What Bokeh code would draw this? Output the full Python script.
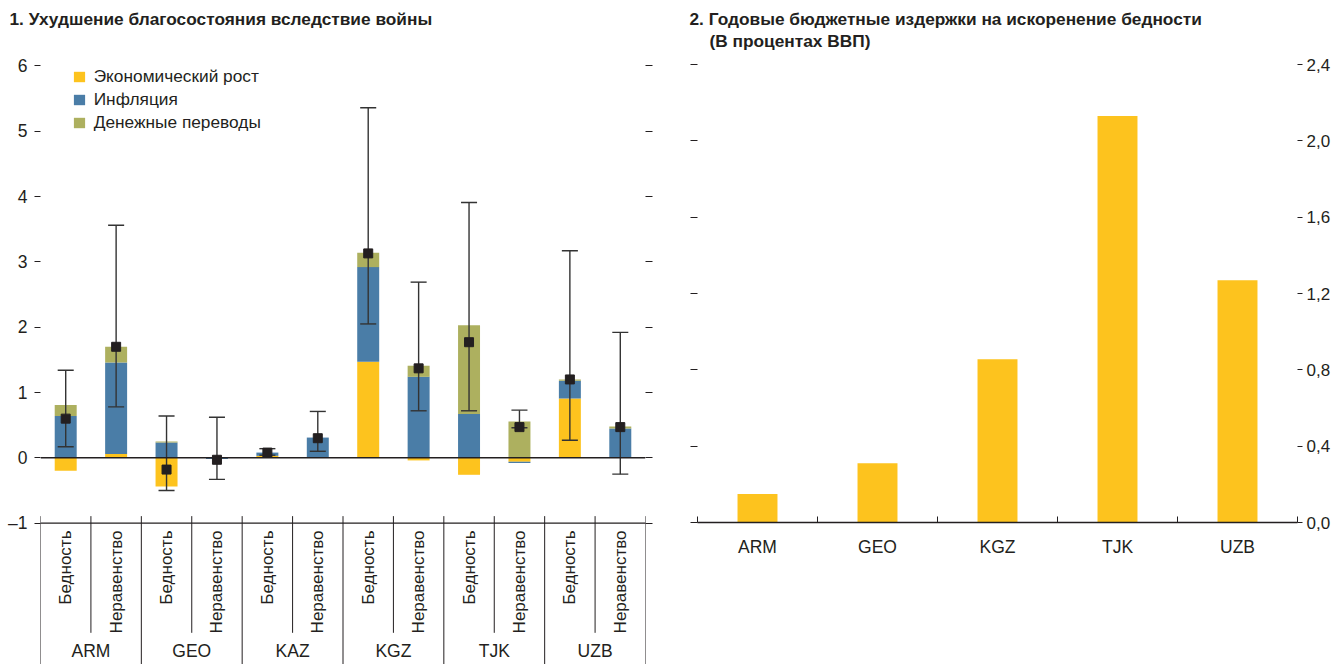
import math
from bokeh.plotting import figure
from bokeh.models import (Range1d, LinearAxis, FixedTicker,
                          CustomJSTickFormatter, Span, Legend, LegendItem, Title)
from bokeh.layouts import row
from bokeh.embed import file_html
from bokeh.resources import INLINE
from bokeh.core.properties import value

FONT = "Liberation Sans"
INK = "#231F20"
YELLOW = "#FDC31E"
BLUE = "#4A7DA7"
OLIVE = "#ADB05F"

# ---------------- data: panel 1 ----------------
countries = ["ARM", "GEO", "KAZ", "KGZ", "TJK", "UZB"]
measures = ["Бедность", "Неравенство"]
series_names = ["Экономический рост", "Инфляция", "Денежные переводы"]

# order: ARM-Бедность, ARM-Неравенство, GEO-Бедность, ...
growth      = [-0.20, 0.06, -0.44, 0.00, 0.03, 0.00, 1.47, -0.04, -0.26, -0.06, 0.91, 0.00]
inflation   = [0.64, 1.40, 0.235, -0.02, 0.05, 0.31, 1.45, 1.24, 0.67, -0.02, 0.27, 0.45]
remittances = [0.17, 0.24, 0.015, 0.00, 0.00, 0.00, 0.22, 0.17, 1.36, 0.555, 0.02, 0.03]
total       = [0.60, 1.70, -0.18, -0.03, 0.08, 0.30, 3.13, 1.37, 1.77, 0.47, 1.20, 0.47]
lower       = [0.17, 0.78, -0.50, -0.33, 0.04, 0.10, 2.05, 0.72, 0.72, 0.46, 0.27, -0.25]
upper       = [1.34, 3.56, 0.64, 0.62, 0.14, 0.71, 5.36, 2.69, 3.91, 0.73, 3.17, 1.92]
y_ticks_1 = [-1, 0, 1, 2, 3, 4, 5, 6]

# ---------------- data: panel 2 ----------------
cost_countries = ["ARM", "GEO", "KGZ", "TJK", "UZB"]
cost = [0.15, 0.31, 0.855, 2.13, 1.27]
y_ticks_2 = [0.0, 0.4, 0.8, 1.2, 1.6, 2.0, 2.4]

# ---------------- panel 1 ----------------
n = len(countries) * len(measures)
xc = [i + 0.5 for i in range(n)]
sub_labels = [mm for c in countries for mm in measures]

# diverging stacking
pos_base = [0.0] * n
neg_base = [0.0] * n
stacks = []
for comp in (growth, inflation, remittances):
    b, t = [], []
    for i, v in enumerate(comp):
        if v >= 0:
            b.append(pos_base[i]); t.append(pos_base[i] + v); pos_base[i] += v
        else:
            b.append(neg_base[i]); t.append(neg_base[i] + v); neg_base[i] += v
    stacks.append((b, t))

Y_BOTTOM = -3.165
p1 = figure(width=672, height=664, x_range=Range1d(0, n), y_range=Range1d(Y_BOTTOM, 6.237),
            output_backend="svg", toolbar_location=None, x_axis_location=None,
            min_border_left=40, min_border_right=27, min_border_top=50, min_border_bottom=0,
            outline_line_color=None, background_fill_color="white", border_fill_color="white",
            frame_align=False)
p1.xgrid.visible = False
p1.ygrid.visible = False

yax = p1.left[0]
yax.ticker = FixedTicker(ticks=y_ticks_1)
yax.formatter = CustomJSTickFormatter(code="return tick < 0 ? '\u2013' + Math.abs(tick) : String(tick);")
yax.axis_line_color = None
yax.major_tick_out = 6
yax.major_tick_in = 0
yax.minor_tick_line_color = None
yax.major_tick_line_color = INK
yax.major_label_standoff = 7
yax.major_label_text_font = FONT
yax.major_label_text_font_size = "17.5px"
yax.major_label_text_color = INK

rax = LinearAxis(ticker=FixedTicker(ticks=y_ticks_1),
                 formatter=CustomJSTickFormatter(code="return '';"))
rax.axis_line_color = None
rax.major_tick_out = 7
rax.major_tick_in = 0
rax.minor_tick_line_color = None
rax.major_tick_line_color = INK
rax.major_label_standoff = 0
p1.add_layout(rax, "right")

p1.add_layout(Span(location=0, dimension="width", line_color=INK, line_width=1.5))
p1.add_layout(Span(location=-1, dimension="width", line_color=INK, line_width=1.2))

renderers = []
for (b, t), col in zip(stacks, (YELLOW, BLUE, OLIVE)):
    r = p1.vbar(x=xc, bottom=b, top=t, width=0.436, fill_color=col, line_color=None)
    renderers.append(r)

# separators
sep_x = list(range(n + 1))
sep_top = [-0.893] * (n + 1)
sep_bot = [Y_BOTTOM if k % len(measures) == 0 else -2.68 for k in sep_x]
p1.segment(x0=sep_x, y0=sep_top, x1=sep_x, y1=sep_bot, line_color=INK, line_width=1)

# error bars
cap = 0.159
p1.segment(x0=xc, y0=lower, x1=xc, y1=upper, line_color="#333333", line_width=1.4)
p1.segment(x0=[x - cap for x in xc], y0=lower, x1=[x + cap for x in xc], y1=lower,
           line_color="#333333", line_width=1.4)
p1.segment(x0=[x - cap for x in xc], y0=upper, x1=[x + cap for x in xc], y1=upper,
           line_color="#333333", line_width=1.4)
p1.scatter(x=xc, y=total, marker="square", size=9, fill_color=INK, line_color=INK)

# category labels
p1.text(x=xc, y=[-1.113] * n, text=sub_labels, angle=math.pi / 2,
        text_align="right", text_baseline="middle",
        text_font=value(FONT), text_font_size="17px", text_color=INK)
cc = [2 * i + 1 for i in range(len(countries))]
p1.text(x=cc, y=[-2.951] * len(countries), text=countries,
        text_align="center", text_baseline="middle",
        text_font=value(FONT), text_font_size="17.5px", text_color=INK)

legend = Legend(items=[LegendItem(label=nm, renderers=[r]) for nm, r in zip(series_names, renderers)],
                location=(31.7, 530.5), orientation="vertical",
                glyph_width=14, glyph_height=13, label_standoff=8, label_height=23,
                spacing=0, padding=0, margin=0, border_line_color=None,
                background_fill_alpha=0, label_text_font=FONT,
                label_text_font_size="17.3px", label_text_color=INK)
p1.add_layout(legend)

p1.title.text = "1. Ухудшение благосостояния вследствие войны"
p1.title.align = "left"
p1.title.offset = -31
p1.title.standoff = 0
p1.title.text_font = FONT
p1.title.text_font_style = "bold"
p1.title.text_font_size = "17.3px"
p1.title.text_color = INK
p1.add_layout(Title(text="\u00a0", align="left", text_font=FONT, text_font_size="17.3px",
                    standoff=0), "above")

# ---------------- panel 2 ----------------
m = len(cost_countries)
xc2 = [i + 0.5 for i in range(m)]
p2 = figure(width=663, height=664, x_range=Range1d(0, m), y_range=Range1d(0, 2.4734),
            output_backend="svg", toolbar_location=None,
            min_border_left=25, min_border_right=38, min_border_top=50, min_border_bottom=142,
            outline_line_color=None, background_fill_color="white", border_fill_color="white",
            frame_align=False)
p2.xgrid.visible = False
p2.ygrid.visible = False
p2.vbar(x=xc2, top=cost, bottom=0, width=0.333, fill_color=YELLOW, line_color=None)

xax = p2.below[0]
xax.ticker = FixedTicker(ticks=xc2, minor_ticks=list(range(m + 1)))
xax.formatter = CustomJSTickFormatter(args=dict(labels=cost_countries),
                                      code="return labels[Math.round(tick - 0.5)];")
xax.major_tick_line_color = None
xax.major_tick_in = 0
xax.major_tick_out = 0
xax.minor_tick_in = 6
xax.minor_tick_out = 0
xax.minor_tick_line_color = INK
xax.axis_line_color = INK
xax.axis_line_width = 1.5
xax.major_label_standoff = 14
xax.major_label_text_font = FONT
xax.major_label_text_font_size = "17.5px"
xax.major_label_text_color = INK

lax = p2.left[0]
lax.ticker = FixedTicker(ticks=y_ticks_2)
lax.formatter = CustomJSTickFormatter(code="return '';")
lax.axis_line_color = None
lax.major_tick_out = 7
lax.major_tick_in = 0
lax.minor_tick_line_color = None
lax.major_tick_line_color = INK
lax.major_label_standoff = 0

rax2 = LinearAxis(ticker=FixedTicker(ticks=y_ticks_2),
                  formatter=CustomJSTickFormatter(code="return tick.toFixed(1).replace('.', ',');"))
rax2.axis_line_color = None
rax2.major_tick_out = 5
rax2.major_tick_in = 0
rax2.minor_tick_line_color = None
rax2.major_tick_line_color = INK
rax2.major_label_standoff = 4
rax2.major_label_text_font = FONT
rax2.major_label_text_font_size = "17px"
rax2.major_label_text_color = INK
p2.add_layout(rax2, "right")

p2.add_layout(Title(text="(В процентах ВВП)", align="left", offset=12, text_font=FONT,
                    text_font_style="bold", text_font_size="17.3px", text_color=INK, standoff=0), "above")
p2.add_layout(Title(text="2. Годовые бюджетные издержки на искоренение бедности", align="left",
                    offset=-8, text_font=FONT, text_font_style="bold", text_font_size="17.3px",
                    text_color=INK, standoff=0), "above")

layout = row(p1, p2)
open("out.html", "w").write(file_html(layout, INLINE))
